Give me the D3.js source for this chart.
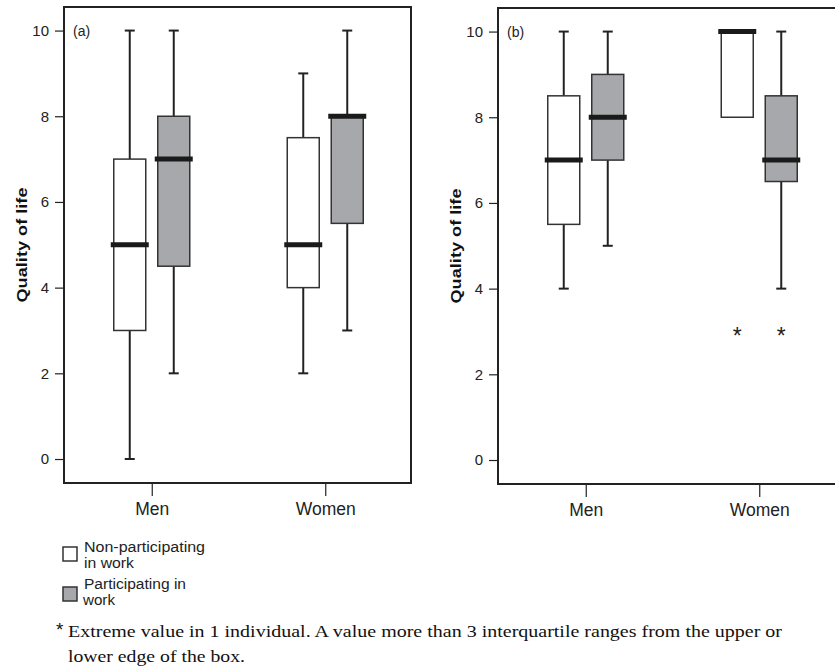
<!DOCTYPE html>
<html>
<head>
<meta charset="utf-8">
<script src="https://cdn.jsdelivr.net/npm/d3@7"></script>
<style>
  body { margin: 0; background: #fff; }
  svg { display: block; }
</style>
</head>
<body>
<div id="container"></div>
<script>
// categories and groups
var categories = ["Men", "Women"]
var groups = ["non", "part"]
var yTicks = [0, 2, 4, 6, 8, 10]

// box stats: [min, q1, median, q3, max] per category, one list per group
var aNonParticipating = [[0, 3, 5, 7, 10], [2, 4, 5, 7.5, 9]]
var aParticipating = [[2, 4.5, 7, 8, 10], [3, 5.5, 8, 8, 10]]
var bNonParticipating = [[4, 5.5, 7, 8.5, 10], [8, 8, 10, 10, 10]]
var bParticipating = [[5, 7, 8, 9, 10], [4, 6.5, 7, 8.5, 10]]

// extreme values (category, group, value)
var bOutliers = [["Women", "non", 3], ["Women", "part", 3]]

var width = 835
var height = 670
var ink = "#222"
var grey = "#a7a8ab"

var svg = d3.select("#container")
  .append("svg")
  .attr("width", width)
  .attr("height", height)
  .style("font-family", "'Liberation Sans', Arial, sans-serif")

function buildRows(nonList, partList) {
  var rows = []
  categories.forEach(function(c, i) {
    rows.push({ cat: c, grp: "non", s: nonList[i] })
    rows.push({ cat: c, grp: "part", s: partList[i] })
  })
  return rows
}

function drawPanel(opts) {
  var left = opts.left, top = opts.top, right = opts.right, bottom = opts.bottom
  var g = svg.append("g")

  var y = d3.scaleLinear()
    .domain([-0.56, 10.55])
    .range([bottom, top])

  var x = d3.scalePoint()
    .domain(categories)
    .range([left + 1, right + 1])
    .padding(0.5)

  var sub = d3.scaleBand()
    .domain(groups)
    .range([-44, 44])

  var boxW = 32
  var capW = 10

  // y axis
  var yAxis = g.append("g")
    .attr("transform", "translate(" + left + ",0)")
    .call(d3.axisLeft(y).tickValues(yTicks).tickSize(9).tickPadding(6))
  yAxis.select(".domain").remove()
  yAxis.selectAll("line").attr("stroke", ink).attr("stroke-width", 1.2)
  yAxis.selectAll("text")
    .attr("fill", ink)
    .style("font-size", "15px")
    .style("font-family", "'Liberation Sans', Arial, sans-serif")

  // x axis
  var xAxis = g.append("g")
    .attr("transform", "translate(0," + bottom + ")")
    .call(d3.axisBottom(x).tickSize(13).tickPadding(7))
  xAxis.select(".domain").remove()
  xAxis.selectAll("line").attr("stroke", ink).attr("stroke-width", 1.2)
  xAxis.selectAll("text")
    .attr("fill", ink)
    .style("font-size", "17.5px")
    .style("font-family", "'Liberation Sans', Arial, sans-serif")

  // frame
  g.append("rect")
    .attr("x", left)
    .attr("y", top)
    .attr("width", right - left)
    .attr("height", bottom - top)
    .attr("fill", "none")
    .attr("stroke", ink)
    .attr("stroke-width", 2)

  // y label
  var midY = (top + bottom) / 2
  g.append("text")
    .attr("transform", "translate(" + opts.labelX + "," + midY + ") rotate(-90)")
    .attr("text-anchor", "middle")
    .attr("textLength", 115)
    .attr("lengthAdjust", "spacingAndGlyphs")
    .style("font-size", "15.5px")
    .style("font-weight", "bold")
    .attr("fill", "#111")
    .text("Quality of life")

  // panel letter
  g.append("text")
    .attr("x", left + 9)
    .attr("y", y(10) + 5)
    .style("font-size", "14px")
    .attr("fill", ink)
    .text(opts.letter)

  var rows = buildRows(opts.non, opts.part)
  var cx = function(d) { return x(d.cat) + sub(d.grp) + sub.bandwidth() / 2 }

  var boxes = g.append("g")
    .selectAll("g")
    .data(rows)
    .enter()
    .append("g")

  // whiskers
  boxes.each(function(d) {
    var el = d3.select(this)
    var c = cx(d)
    var segs = [[d.s[0], d.s[1]], [d.s[3], d.s[4]]]
    segs.forEach(function(p) {
      if (p[0] === p[1]) return
      el.append("line")
        .attr("x1", c).attr("x2", c)
        .attr("y1", y(p[0])).attr("y2", y(p[1]))
        .attr("stroke", ink).attr("stroke-width", 2)
      var end = p === segs[0] ? p[0] : p[1]
      el.append("line")
        .attr("x1", c - capW / 2).attr("x2", c + capW / 2)
        .attr("y1", y(end)).attr("y2", y(end))
        .attr("stroke", ink).attr("stroke-width", 2)
    })
  })

  boxes.append("rect")
    .attr("x", function(d) { return cx(d) - boxW / 2 })
    .attr("y", function(d) { return y(d.s[3]) })
    .attr("width", boxW)
    .attr("height", function(d) { return y(d.s[1]) - y(d.s[3]) })
    .attr("fill", function(d) { return d.grp === "non" ? "#fff" : grey })
    .attr("stroke", "#333")
    .attr("stroke-width", 1.5)

  boxes.append("line")
    .attr("x1", function(d) { return cx(d) - boxW / 2 - 3 })
    .attr("x2", function(d) { return cx(d) + boxW / 2 + 3 })
    .attr("y1", function(d) { return y(d.s[2]) })
    .attr("y2", function(d) { return y(d.s[2]) })
    .attr("stroke", "#1a1a1a")
    .attr("stroke-width", 5)

  // outliers
  g.append("g")
    .selectAll("text")
    .data(opts.outliers || [])
    .enter()
    .append("text")
    .attr("x", function(d) { return x(d[0]) + sub(d[1]) + sub.bandwidth() / 2 })
    .attr("y", function(d) { return y(d[2]) + 13 })
    .attr("text-anchor", "middle")
    .style("font-size", "23px")
    .attr("fill", ink)
    .text("*")
}

drawPanel({ left: 64, top: 7, right: 411, bottom: 483, labelX: 27, letter: "(a)",
  non: aNonParticipating, part: aParticipating })
drawPanel({ left: 498, top: 8, right: 845, bottom: 484, labelX: 461, letter: "(b)",
  non: bNonParticipating, part: bParticipating, outliers: bOutliers })

// legend
var legendItems = [
  { grp: "non", lines: ["Non-participating", "in work"], lens: [121, 50] },
  { grp: "part", lines: ["Participating in", "work"], lens: [102, 32] }
]
var legend = svg.append("g")
legendItems.forEach(function(d, i) {
  var yTop = 547 + i * 40
  legend.append("rect")
    .attr("x", 63).attr("y", yTop)
    .attr("width", 14).attr("height", 14)
    .attr("fill", d.grp === "non" ? "#fff" : grey)
    .attr("stroke", "#333").attr("stroke-width", 1.5)
  d.lines.forEach(function(t, j) {
    legend.append("text")
      .attr("x", i === 1 && j === 1 ? 83 : 84)
      .attr("y", yTop + 5 + j * 16 - (i === 1 ? 3 : 0))
      .attr("textLength", d.lens[j])
      .attr("lengthAdjust", "spacingAndGlyphs")
      .style("font-size", "14px")
      .attr("fill", ink)
      .text(t)
  })
})

// footnote
var note = svg.append("g")
  .style("font-family", "'Liberation Serif', 'Times New Roman', serif")
  .attr("fill", "#111")
note.append("text")
  .attr("x", 56).attr("y", 636)
  .style("font-size", "19px")
  .style("font-family", "'Liberation Sans', Arial, sans-serif")
  .text("*")
note.append("text")
  .attr("x", 68).attr("y", 637)
  .attr("textLength", 714)
  .attr("lengthAdjust", "spacingAndGlyphs")
  .style("font-size", "17px")
  .text("Extreme value in 1 individual. A value more than 3 interquartile ranges from the upper or")
note.append("text")
  .attr("x", 68).attr("y", 662)
  .attr("textLength", 177)
  .attr("lengthAdjust", "spacingAndGlyphs")
  .style("font-size", "17px")
  .text("lower edge of the box.")
</script>
</body>
</html>
